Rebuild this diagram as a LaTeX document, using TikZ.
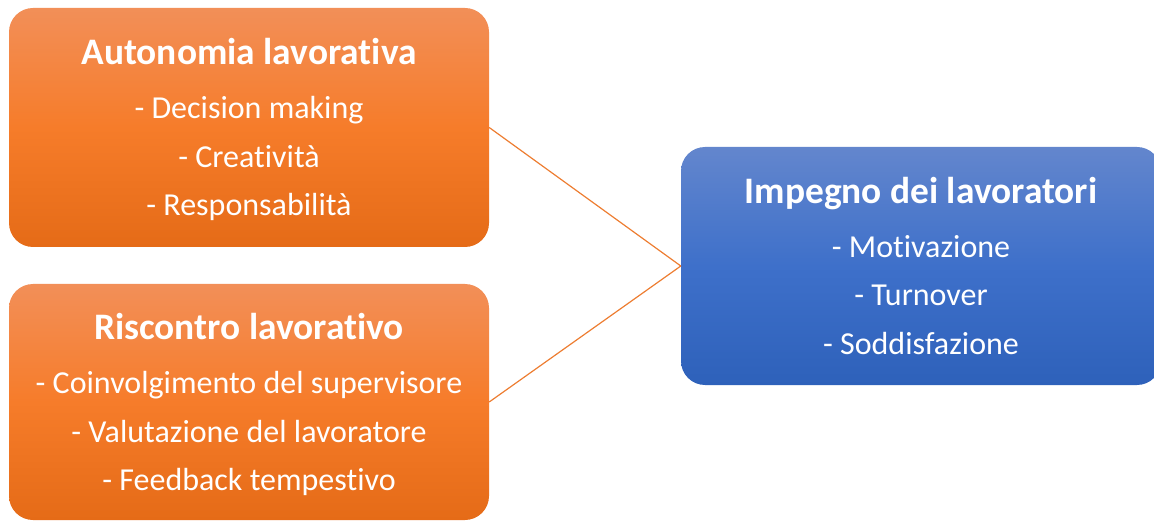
\documentclass[tikz,border=0pt]{standalone}
\usepackage{fontspec}
\setmainfont{Carlito}[Ligatures={NoCommon}]
\definecolor{orTop}{RGB}{242,143,88}
\definecolor{orMid}{RGB}{246,124,42}
\definecolor{orBot}{RGB}{229,107,23}
\definecolor{blTop}{RGB}{99,134,205}
\definecolor{blMid}{RGB}{62,112,202}
\definecolor{blBot}{RGB}{46,97,186}
\definecolor{lineor}{RGB}{237,125,49}
\begin{document}
\begin{tikzpicture}[x=1pt,y=-1pt,
  boxbase/.style={rectangle, rounded corners=24pt, minimum width=480pt, inner sep=0pt, shading=axis},
  orbox/.style={boxbase, top color=orTop, bottom color=orBot, middle color=orMid},
  blbox/.style={boxbase, top color=blTop, bottom color=blBot, middle color=blMid},
  ttl/.style={anchor=base, text=white, font=\fontsize{37.4}{40}\selectfont\bfseries, inner sep=0pt},
  itm/.style={anchor=base, text=white, font=\fontsize{32}{36}\selectfont, inner sep=0pt},
  conn/.style={draw=lineor, line width=1.2pt}]
\useasboundingbox (0,0) rectangle (1154,521);
\node[orbox, minimum height=239pt] (auto) at (249,127.5) {};
\node[orbox, minimum height=236pt] (risc) at (249,402) {};
\node[blbox, minimum height=238pt] (imp) at (921,266) {};
\draw[conn] (auto.east) -- (imp.west);
\draw[conn] (risc.east) -- (imp.west);
% top box
\node[ttl] (t1) at ([yshift=62.5pt]auto.center) {Autonomia lavorativa};
\node[itm] (a1) at ([yshift=8.5pt]auto.center) {- Decision making};
\node[itm] (a2) at ([yshift=-40pt]auto.center) {- Creatività};
\node[itm] (a3) at ([yshift=-88.5pt]auto.center) {- Responsabilità};
% bottom box
\node[ttl] (t2) at ([yshift=62.5pt]risc.center) {Riscontro lavorativo};
\node[itm] (b1) at ([yshift=8.5pt]risc.center) {- Coinvolgimento del supervisore};
\node[itm] (b2) at ([yshift=-40pt]risc.center) {- Valutazione del lavoratore};
\node[itm] (b3) at ([yshift=-88.5pt]risc.center) {- Feedback tempestivo};
% blue box
\node[ttl] (t3) at ([yshift=62.5pt]imp.center) {Impegno dei lavoratori};
\node[itm] (c1) at ([yshift=8.5pt]imp.center) {- Motivazione};
\node[itm] (c2) at ([yshift=-40pt]imp.center) {- Turnover};
\node[itm] (c3) at ([yshift=-88.5pt]imp.center) {- Soddisfazione};
\end{tikzpicture}
\end{document}
